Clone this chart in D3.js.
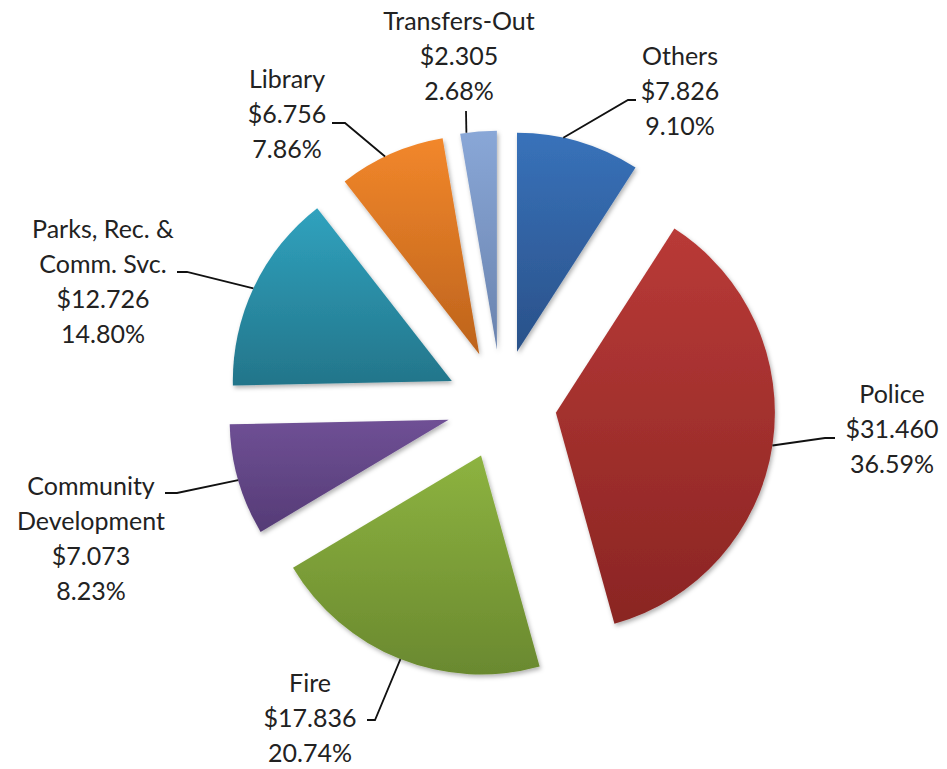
<!DOCTYPE html>
<html>
<head>
<meta charset="utf-8">
<script src="https://cdn.jsdelivr.net/npm/d3@7"></script>
<style>
  body { margin: 0; background: #fff; }
  text { font-family: Lato, "Open Sans", sans-serif; fill: #222; }
</style>
</head>
<body>
<div id="chart"></div>
<script>
// datos del grafico (millones)
const categories = ["Others", "Police", "Fire", "Community Development", "Parks, Rec. & Comm. Svc.", "Library", "Transfers-Out"]
const labelLines = [["Others"], ["Police"], ["Fire"], ["Community", "Development"], ["Parks, Rec. &", "Comm. Svc."], ["Library"], ["Transfers-Out"]]
const values = [7.826, 31.460, 17.836, 7.073, 12.726, 6.756, 2.305]

// colores: arriba / abajo del degradado
const topColors = ["#3872ba", "#b93a37", "#8db340", "#6f5095", "#30a2be", "#f2872b", "#89a7d7"]
const bottomColors = ["#2a5189", "#8a2523", "#6a892f", "#553b76", "#23758a", "#bd631c", "#6a83ae"]

// posicion de etiquetas (centro x, primera linea base y) y lineas guia
const labelPos = [[680, 65], [892, 403], [310, 692], [91, 495], [103, 238], [287, 88], [459, 30]]
const leaderAngle = [12.2, 98.6, 201.6, 254, 295, 334.5, 352]
const leaderElbow = [[628, 100, 636, 100], [825, 438, 835, 438], [375, 720, 367, 720], [177, 493, 165, 493], [187, 272, 177, 272], [345, 123, 332, 123], [466, 111, 466, 111]]

const width = 947
const height = 769
const cx = 501.5
const cy = 404.5
const radius = 219
const explode = 55
const lineH = 35

const svg = d3.select("#chart")
  .append("svg")
    .attr("width", width)
    .attr("height", height)

const defs = svg.append("defs")

const shadow = defs.append("filter")
  .attr("id", "sombra")
  .attr("x", "-10%").attr("y", "-10%")
  .attr("width", "130%").attr("height", "130%")
shadow.append("feDropShadow")
  .attr("dx", 1.5).attr("dy", 2.5)
  .attr("stdDeviation", 2)
  .attr("flood-color", "#000")
  .attr("flood-opacity", 0.3)

categories.forEach((c, i) => {
  const g = defs.append("linearGradient")
    .attr("id", "grad" + i)
    .attr("x1", 0).attr("y1", 0).attr("x2", 0).attr("y2", 1)
  g.append("stop").attr("offset", "0%").attr("stop-color", topColors[i])
  g.append("stop").attr("offset", "100%").attr("stop-color", bottomColors[i])
})

const total = d3.sum(values)

const pie = d3.pie()
  .sort(null)
  .value((d) => d)

const arc = d3.arc()
  .innerRadius(0)
  .outerRadius(radius)

const arcs = pie(values)

const offset = (d) => {
  const a = (d.startAngle + d.endAngle) / 2
  return [explode * Math.sin(a), -explode * Math.cos(a)]
}

const chart = svg.append("g")
  .attr("transform", `translate(${cx},${cy})`)

chart.selectAll("path.slice")
  .data(arcs)
  .enter()
  .append("path")
    .attr("class", "slice")
    .attr("d", arc)
    .attr("transform", (d) => `translate(${offset(d)[0]},${offset(d)[1]})`)
    .attr("fill", (d, i) => `url(#grad${i})`)
    .attr("filter", "url(#sombra)")

// lineas guia
arcs.forEach((d, i) => {
  const o = offset(d)
  const a = leaderAngle[i] * Math.PI / 180
  const px = cx + o[0] + radius * Math.sin(a)
  const py = cy + o[1] - radius * Math.cos(a)
  const e = leaderElbow[i]
  svg.append("polyline")
    .attr("points", `${px},${py} ${e[0]},${e[1]} ${e[2]},${e[3]}`)
    .attr("fill", "none")
    .attr("stroke", "#111")
    .attr("stroke-width", 1.8)
})

// etiquetas
arcs.forEach((d, i) => {
  const lines = labelLines[i].concat([
    "$" + values[i].toFixed(3),
    (values[i] / total * 100).toFixed(2) + "%"
  ])
  const t = svg.append("text")
    .attr("text-anchor", "middle")
    .attr("font-size", "25px")
  lines.forEach((l, j) => {
    t.append("tspan")
      .attr("x", labelPos[i][0])
      .attr("y", labelPos[i][1] + j * lineH)
      .text(l)
  })
})
</script>
</body>
</html>
